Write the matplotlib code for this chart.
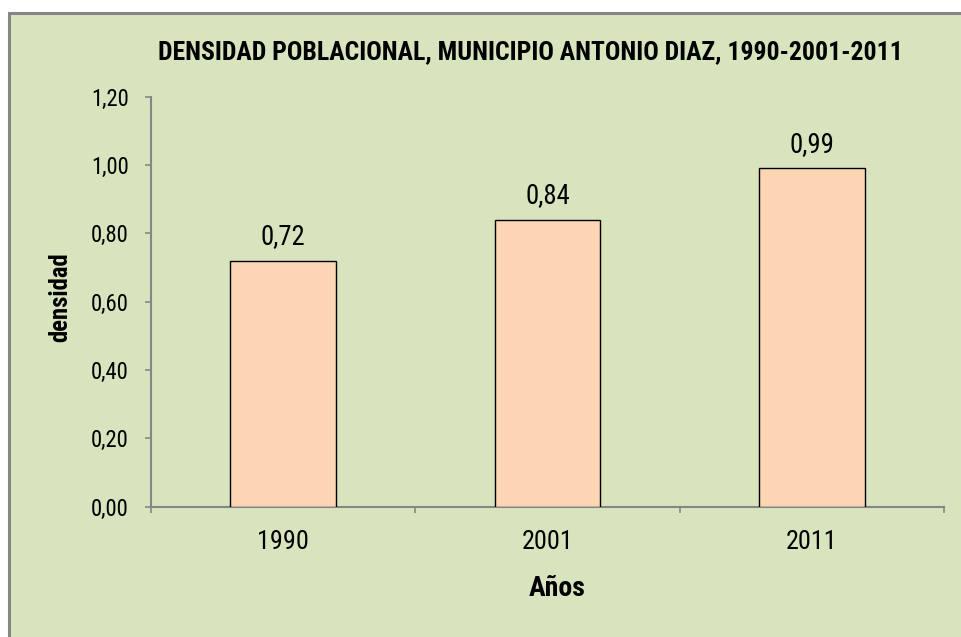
import numpy as np
import matplotlib.pyplot as plt
from matplotlib import font_manager
from matplotlib.patches import Rectangle

anios = ["1990", "2001", "2011"]
densidad = [0.72, 0.84, 0.99]
y_ticks = [0.0, 0.2, 0.4, 0.6, 0.8, 1.0, 1.2]

fondo = "#D7E4BD"
barra = "#FCD5B5"
gris = "#868686"

# buscar una fuente estrecha que tenga negrita
pesos = {}
for f in font_manager.fontManager.ttflist:
    if "Narrow" in f.name or "Condensed" in f.name:
        w = f.weight if isinstance(f.weight, int) else 400
        pesos.setdefault(f.name, set()).add(w)
preferidas = ["Liberation Sans Narrow", "Arial Narrow", "Roboto Condensed", "Open Sans Condensed"]
candidatas = [n for n in preferidas if n in pesos] + sorted(pesos)
con_negrita = [n for n in candidatas if max(pesos[n]) >= 600]
fuente = (con_negrita or candidatas)[:1] + ["Liberation Sans", "DejaVu Sans"]

W, H = 961, 637
fig = plt.figure(figsize=(W / 100, H / 100), dpi=100)
fig.patch.set_facecolor("white")

marco = Rectangle((9 / W, -0.05), 1.1, 1 - 13 / H + 0.05, transform=fig.transFigure,
                  facecolor=fondo, edgecolor=gris, linewidth=2.2, zorder=-5)
fig.patches.append(marco)

ax = fig.add_axes([151 / W, 1 - 506.7 / H, (944 - 151) / W, (506.7 - 96.7) / H])
ax.set_facecolor("none")

x = np.arange(len(anios))
barras = ax.bar(x, densidad, width=0.4, color=barra, edgecolor="black", linewidth=1.0, zorder=3)

ax.set_xlim(-0.5, len(anios) - 0.5)
ax.set_ylim(0, 1.2)

ax.set_yticks(y_ticks)
ax.set_yticklabels([f"{v:.2f}".replace(".", ",") for v in y_ticks], family=fuente, fontsize=13)
ax.set_xticks(x)
ax.set_xticklabels(anios, family=fuente, fontsize=17)
ax.set_xticks(np.arange(len(anios) + 1) - 0.5, minor=True)
ax.tick_params(axis="x", which="major", length=0, pad=17)
ax.tick_params(axis="x", which="minor", length=4, width=1.2, color=gris, direction="out")
ax.tick_params(axis="y", length=4, width=1.2, color=gris, direction="out", pad=12)

for lado in ["top", "right"]:
    ax.spines[lado].set_visible(False)
for lado in ["left", "bottom"]:
    ax.spines[lado].set_color(gris)
    ax.spines[lado].set_linewidth(1.5)

etiquetas = []
for b, v in zip(barras, densidad):
    t = ax.annotate(f"{v:.2f}".replace(".", ","), (b.get_x() + b.get_width() / 2, v),
                    xytext=(0, 12), textcoords="offset points", ha="center", va="baseline",
                    family=fuente, fontsize=16)
    etiquetas.append(t)

titulo = fig.text(530 / W, 1 - 59.3 / H, "DENSIDAD POBLACIONAL, MUNICIPIO ANTONIO DIAZ, 1990-2001-2011",
                  ha="center", va="baseline", family=fuente, fontsize=17, fontweight="bold")
ylab = fig.text(60 / W, 1 - 297 / H, "densidad", rotation=90, ha="center", va="center",
                family=fuente, fontsize=16, fontweight="bold")
xlab = fig.text(557 / W, 1 - 596 / H, "Años", ha="center", va="baseline",
                family=fuente, fontsize=17, fontweight="bold")

# ajustar tamaños a los anchos medidos en el original (px)
r = fig.canvas.get_renderer()


def ajustar(textos, objetivo, vertical=False):
    ext = textos[0].get_window_extent(r)
    medido = ext.height if vertical else ext.width
    factor = objetivo / medido
    for t in textos:
        t.set_fontsize(t.get_fontsize() * factor)


ajustar([titulo], 745)
ajustar([ylab], 90, vertical=True)
ajustar([xlab], 57)
ajustar(etiquetas, 45)
ajustar(ax.get_xticklabels(), 52)
ajustar([ax.get_yticklabels()[3]] + [t for i, t in enumerate(ax.get_yticklabels()) if i != 3], 38)

fig.savefig("out.png", dpi=100, facecolor=fig.get_facecolor())
